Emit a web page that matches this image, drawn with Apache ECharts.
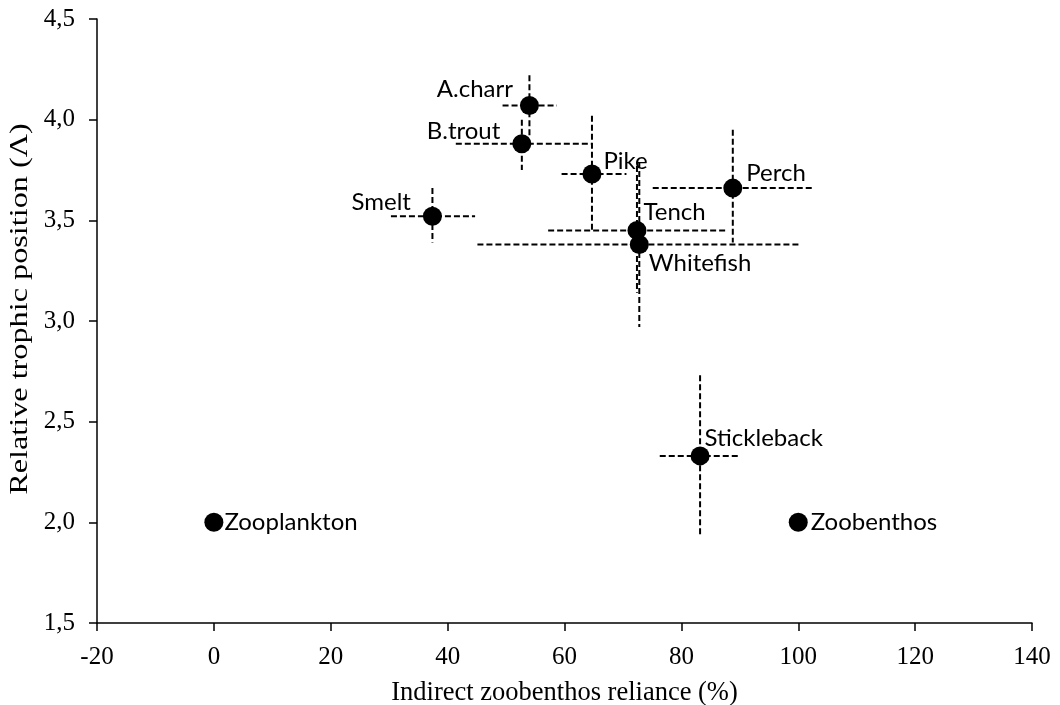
<!DOCTYPE html>
<html>
<head>
<meta charset="utf-8">
<script src="https://cdn.jsdelivr.net/npm/echarts@6/dist/echarts.min.js"></script>
<style>
  html, body { margin: 0; padding: 0; background: #fff; }
  #chart { width: 1060px; height: 705px; }
</style>
</head>
<body>
<div id="chart"></div>
<script>
// species / sources
const names = ['A.charr', 'B.trout', 'Pike', 'Smelt', 'Tench', 'Perch', 'Whitefish', 'Stickleback', 'Zooplankton', 'Zoobenthos']
// indirect zoobenthos reliance (%)
const relianceX = [54.0, 52.7, 64.7, 37.4, 72.4, 88.8, 72.8, 83.2, 0, 100]
// relative trophic position
const trophicY = [4.07, 3.88, 3.73, 3.52, 3.45, 3.66, 3.38, 2.33, 2.0, 2.0]
// error ranges (null = no bars)
const xLow  = [49.4, 41.4, 59.5, 30.3, 57.2, 75.1, 45.1, 76.3, null, null]
const xHigh = [58.7, 64.6, 70.6, 44.7, 87.7, 102.7, 100.5, 90.1, null, null]
const yLow  = [3.92, 3.75, 3.44, 3.39, 3.14, 3.39, 2.97, 1.94, null, null]
const yHigh = [4.22, 4.00, 4.02, 3.66, 3.77, 3.95, 3.79, 2.73, null, null]

const xTitle = 'Indirect zoobenthos reliance (%)'
const yTitle = 'Relative trophic position (Λ)'

// label placement per name: [side, dx, dy]
const labelPlace = {
  'A.charr': ['left', -7, -16],
  'B.trout': ['left', -12, -13],
  'Pike': ['right', 2, -13],
  'Smelt': ['left', -12, -14],
  'Tench': ['right', -3, -18],
  'Perch': ['right', 4, -15],
  'Whitefish': ['right', 0, 19],
  'Stickleback': ['right', -5, -18],
  'Zooplankton': ['right', 1, 0],
  'Zoobenthos': ['right', 3, 0]
}

const pointData = names.map((n, i) => {
  const p = labelPlace[n]
  return {
    name: n,
    value: [relianceX[i], trophicY[i]],
    label: { position: p[0], offset: [p[1], p[2]] }
  }
})

const errData = []
names.forEach((n, i) => {
  if (xLow[i] == null) return
  errData.push([relianceX[i], trophicY[i], xLow[i], xHigh[i], yLow[i], yHigh[i]])
})

const chart = echarts.init(document.getElementById('chart'))

const axisFont = { fontFamily: 'Liberation Serif', fontSize: 25, color: '#000' }

const option = {
  animation: false,
  grid: { left: 97, right: 28, top: 19, bottom: 82, outerBoundsMode: 'none' },
  // y title drawn as graphic so it can be stretched along its length like the source
  graphic: [{
    type: 'text',
    x: 20,
    y: 309,
    rotation: Math.PI / 2,
    scaleX: 1.24,
    style: {
      text: yTitle,
      font: '26px "Liberation Serif"',
      fill: '#000',
      align: 'center',
      verticalAlign: 'middle'
    }
  }],
  xAxis: {
    type: 'value',
    min: -20,
    max: 140,
    interval: 20,
    name: xTitle,
    nameLocation: 'middle',
    nameGap: 57,
    nameTextStyle: { ...axisFont, fontSize: 26.5 },
    axisLine: { onZero: false, lineStyle: { color: '#000', width: 1.5 } },
    axisTick: { show: true, length: 8, lineStyle: { color: '#000', width: 1.5 } },
    axisLabel: { ...axisFont, margin: 22 },
    splitLine: { show: false }
  },
  yAxis: {
    type: 'value',
    min: 1.5,
    max: 4.5,
    interval: 0.5,
    axisLine: { show: true, onZero: false, lineStyle: { color: '#000', width: 1.5 } },
    axisTick: { show: true, length: 8, lineStyle: { color: '#000', width: 1.5 } },
    axisLabel: {
      ...axisFont,
      margin: 22,
      formatter: v => v.toFixed(1).replace('.', ',')
    },
    splitLine: { show: false }
  },
  series: [
    {
      type: 'custom',
      data: errData,
      z: 1,
      renderItem: (params, api) => {
        const x = api.value(0), y = api.value(1)
        const l = api.coord([api.value(2), y])
        const r = api.coord([api.value(3), y])
        const b = api.coord([x, api.value(4)])
        const t = api.coord([x, api.value(5)])
        const style = { stroke: '#000', lineWidth: 2, lineDash: [6, 3], fill: null }
        return {
          type: 'group',
          children: [
            { type: 'line', shape: { x1: l[0], y1: l[1], x2: r[0], y2: r[1] }, style },
            { type: 'line', shape: { x1: t[0], y1: t[1], x2: b[0], y2: b[1] }, style }
          ]
        }
      }
    },
    {
      type: 'scatter',
      data: pointData,
      z: 3,
      symbol: 'circle',
      symbolSize: 19,
      itemStyle: { color: '#000', opacity: 1 },
      label: {
        show: true,
        formatter: '{b}',
        distance: 0,
        fontFamily: 'Lato',
        fontSize: 24,
        color: '#000'
      }
    }
  ]
}

chart.setOption(option)
</script>
</body>
</html>
